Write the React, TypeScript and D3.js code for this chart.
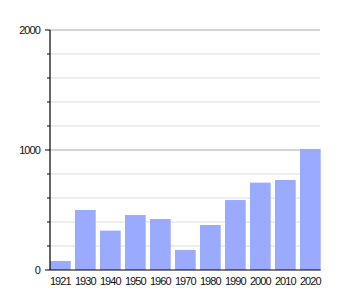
import React from "react";
import * as d3 from "d3";

const years = ["1921", "1930", "1940", "1950", "1960", "1970", "1980", "1990", "2000", "2010", "2020"];
const population = [75, 500, 328, 458, 425, 167, 375, 583, 728, 750, 1008];
const majorTicks = [0, 1000, 2000];
const minorTicks = [200, 400, 600, 800, 1200, 1400, 1600, 1800];

export default function App() {
  const W = 350, H = 300;
  const left = 50, right = 320.7, top = 30, bottom = 270;
  const x = d3.scaleBand<string>().domain(years).range([left, right]).paddingInner(0.172).paddingOuter(0);
  const y = d3.scaleLinear().domain([0, 2000]).range([bottom, top]);
  const gridEnd = 320;
  return (
    <svg width={W} height={H} style={{ position: "absolute", left: 0, top: 0 }} fontFamily="Liberation Sans, Arial, sans-serif">
      <rect width={W} height={H} fill="#fff" />
      {minorTicks.map((t) => (
        <g key={"m" + t}>
          <line x1={left} x2={gridEnd} y1={y(t)} y2={y(t)} stroke="#dddddd" strokeWidth={1} />
          <line x1={left - 3} x2={left} y1={y(t)} y2={y(t)} stroke="#000" strokeWidth={1} />
        </g>
      ))}
      {majorTicks.filter((t) => t > 0).map((t) => (
        <line key={"g" + t} x1={left} x2={gridEnd} y1={y(t)} y2={y(t)} stroke="#aaaaaa" strokeWidth={1} />
      ))}
      {years.map((yr, i) => (
        <rect key={yr} x={x(yr)} y={y(population[i])} width={x.bandwidth()} height={bottom - y(population[i])} fill="#99aaff" />
      ))}
      <line x1={left} x2={left} y1={top} y2={bottom} stroke="#000" strokeWidth={1.2} />
      <line x1={left} x2={right} y1={bottom} y2={bottom} stroke="#000" strokeWidth={1.2} />
      {majorTicks.map((t) => (
        <g key={"M" + t}>
          <line x1={left - 5} x2={left} y1={y(t)} y2={y(t)} stroke="#000" strokeWidth={1} />
          <text x={40} y={y(t)} dy="0.35em" textAnchor="end" fontSize={11} letterSpacing={-0.9} fill="#111">{t}</text>
        </g>
      ))}
      {years.map((yr) => (
        <text key={"l" + yr} x={(x(yr) as number) + x.bandwidth() / 2} y={bottom + 15} textAnchor="middle" fontSize={11} letterSpacing={-0.9} fill="#111">{yr}</text>
      ))}
    </svg>
  );
}
